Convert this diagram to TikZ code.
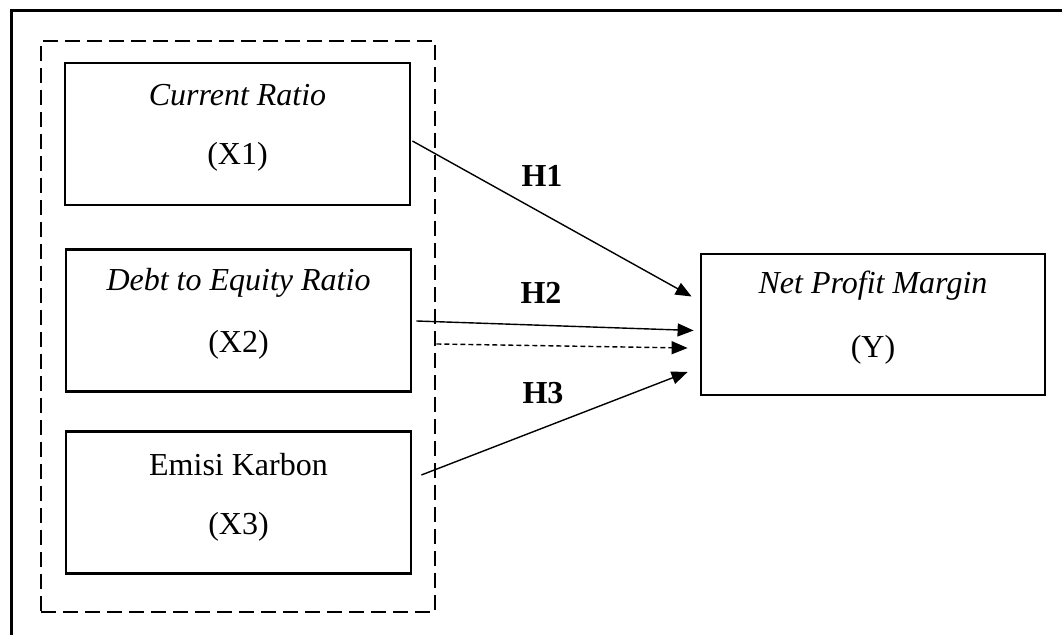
\documentclass[tikz,border=0pt]{standalone}
\usepackage{fontspec}
\setmainfont{Liberation Serif}
\usetikzlibrary{arrows.meta,calc}
\begin{document}
\begin{tikzpicture}[x=0.5pt,y=-0.5pt,
  box/.style={draw,line width=1.4pt,minimum width=172.5pt,minimum height=71pt,inner sep=0pt},
  lbl/.style={font=\fontsize{16}{19}\selectfont,inner sep=0pt},
  hlbl/.style={font=\fontsize{16}{19}\selectfont\bfseries,inner sep=0pt},
  arr/.style={line width=0.7pt,-{Triangle[length=8pt,width=6.5pt]}},
  darr/.style={arr,dash pattern=on 2.5pt off 1.5pt}]
\useasboundingbox (0,0) rectangle (1062,635);
\clip (0,0) rectangle (1062,635);
\fill[white] (0,0) rectangle (1062,635);
% outer frame
\draw[line width=1.5pt] (11,700) -- (11,11) -- (1100,11);
% dashed group
\node[draw,line width=1.4pt,dash pattern=on 7.5pt off 3.5pt,minimum width=197pt,minimum height=285.5pt,inner sep=0pt] (grp) at (238,326.5) {};
% boxes
\node[box] (b1) at (237.5,134) {};
\node[box] (b2) at (238.5,320.5) {};
\node[box] (b3) at (238.5,502.5) {};
\node[box,minimum width=172pt,minimum height=70.5pt] (y) at (873,324.5) {};
% texts
\node[lbl] (t1a) at (237.5,95) {\itshape Current Ratio};
\node[lbl] (t1b) at (237.5,157) {(X1)};
\node[lbl] (t2a) at (238.5,283) {\itshape Debt to Equity Ratio};
\node[lbl] (t2b) at (238.5,345) {(X2)};
\node[lbl] (t3a) at (238.5,465) {Emisi Karbon};
\node[lbl] (t3b) at (238.5,527) {(X3)};
\node[lbl] (tya) at (873,286) {\itshape Net Profit Margin};
\node[lbl] (tyb) at (873,350) {(Y)};
% arrows
\draw[arr] ($(b1.east)+(1,7)$) -- ($(y.west)+(-8,-28)$);
\draw[arr] ($(b2.east)+(4,0.5)$) -- ($(y.west)+(-6,6)$);
\draw[darr] ($(grp.east)+(0,17.5)$) -- ($(y.west)+(-12,23.5)$);
\draw[arr] ($(b3.east)+(9,-27.5)$) -- ($(y.west)+(-12,47.5)$);
% hypothesis labels
\node[hlbl] (h1) at (542,176) {H1};
\node[hlbl] (h2) at (541,293) {H2};
\node[hlbl] (h3) at (543,393) {H3};
\end{tikzpicture}
\end{document}
